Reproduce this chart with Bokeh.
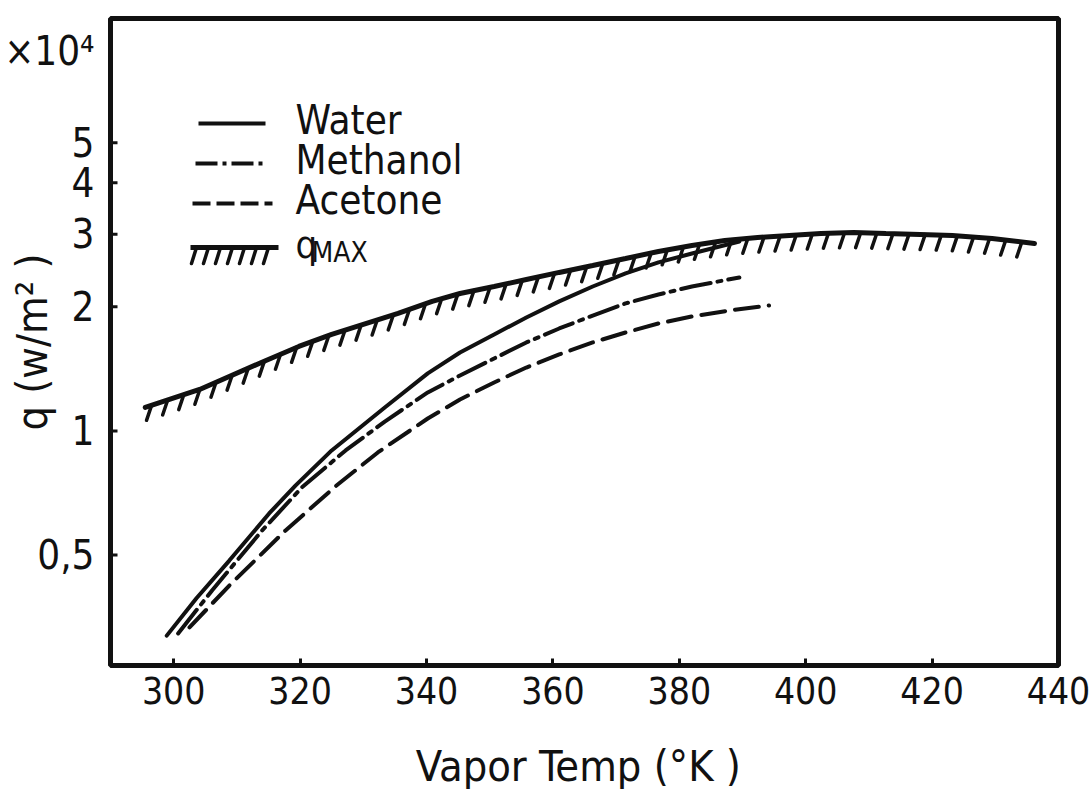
import numpy as np
from bokeh.plotting import figure
from bokeh.models import Range1d, LinearScale, FixedTicker, Label
from bokeh.embed import file_html
from bokeh.resources import INLINE

# Vapor temperature (K) against heat flux q (in units of 10^4 W/m^2)
water_T = [298.9, 303.6, 308.8, 315.1, 319.3, 325.0, 333.4, 340.2, 345.3, 350.7,
           355.8, 361.0, 366.3, 371.5, 376.7, 382.0, 389.5]
water_q = [0.319, 0.393, 0.485, 0.631, 0.738, 0.897, 1.14, 1.379, 1.550, 1.714,
           1.884, 2.061, 2.240, 2.409, 2.562, 2.693, 2.880]

methanol_T = [300.7, 306.1, 314.0, 320.3, 327.2, 333.4, 340.2, 345.3, 350.7,
              355.8, 361.0, 366.3, 371.5, 376.7, 382.0, 389.5]
methanol_q = [0.323, 0.411, 0.574, 0.730, 0.897, 1.054, 1.240, 1.363, 1.499,
              1.639, 1.772, 1.905, 2.038, 2.142, 2.240, 2.356]

acetone_T = [302.5, 308.8, 317.7, 325.6, 332.3, 340.2, 345.3, 350.7, 355.8,
             361.0, 366.3, 371.5, 376.7, 382.0, 388.0, 394.2]
acetone_q = [0.334, 0.422, 0.574, 0.734, 0.887, 1.072, 1.192, 1.311, 1.425,
             1.533, 1.639, 1.733, 1.822, 1.895, 1.960, 2.015]

qmax_T = [295.5, 304.1, 314.6, 319.8, 325.0, 335.5, 340.9, 345.3, 350.7, 355.8,
          361.0, 366.3, 371.5, 376.7, 382.0, 387.2, 392.4, 397.4, 402.4, 407.6,
          412.7, 418.1, 423.2, 429.5, 436.2]
qmax_q = [1.140, 1.261, 1.482, 1.603, 1.714, 1.927, 2.061, 2.154, 2.240, 2.329,
          2.423, 2.519, 2.619, 2.724, 2.817, 2.897, 2.945, 2.978, 3.011, 3.028,
          3.011, 2.995, 2.978, 2.929, 2.848]

x_ticks = [300, 320, 340, 360, 380, 400, 420, 440]
y_ticks = [0.5, 1.0, 2.0, 3.0, 4.0, 5.0]
y_tick_labels = ["0,5", "1", "2", "3", "4", "5"]
y_multiplier = "×10⁴"

legend_names = ["Water", "Methanol", "Acetone"]

FONT = "DejaVu Sans Condensed"
INK = "#111111"
FW, FH = 948, 647
X_LO, X_HI = 290, 440
Y_LO, Y_HI = 0.27, 10.0

p = figure(frame_width=FW, frame_height=FH,
           x_range=Range1d(X_LO, X_HI), y_range=Range1d(Y_LO, Y_HI),
           y_axis_type="log", output_backend="svg", toolbar_location=None,
           min_border_left=110, min_border_right=34,
           min_border_top=18, min_border_bottom=124)

p.background_fill_color = "white"
p.border_fill_color = "white"
p.outline_line_color = INK
p.outline_line_width = 5
p.xgrid.visible = False
p.ygrid.visible = False

# pixel-based overlay coordinates for the legend block
p.extra_x_ranges = {"px": Range1d(0, FW)}
p.extra_y_ranges = {"px": Range1d(0, FH)}
p.extra_y_scales = {"px": LinearScale()}

# the power-of-ten multiplier sits in the tick-label column near the top
log_lo, log_hi = np.log10(Y_LO), np.log10(Y_HI)
mult_pos = float(10 ** (log_lo + 0.95 * (log_hi - log_lo)))

# axes
p.xaxis.ticker = FixedTicker(ticks=x_ticks)
p.yaxis.ticker = FixedTicker(ticks=y_ticks + [mult_pos])
overrides = {t: s for t, s in zip(y_ticks, y_tick_labels)}
overrides[mult_pos] = y_multiplier
p.yaxis.major_label_overrides = overrides
for ax in (p.xaxis[0], p.yaxis[0]):
    ax.axis_line_color = None
    ax.major_tick_out = 0
    ax.major_tick_line_width = 3
    ax.major_tick_line_color = INK
    ax.minor_tick_line_color = None
    ax.major_label_text_font = FONT
    ax.major_label_text_color = INK
    ax.axis_label_text_font = FONT
    ax.axis_label_text_font_size = "43px"
    ax.axis_label_text_font_style = "normal"
    ax.axis_label_text_color = INK
p.xaxis.major_label_text_font_size = "37px"
p.yaxis.major_label_text_font_size = "40px"
p.xaxis.major_tick_in = 7
p.yaxis.major_tick_in = 0

p.xaxis.axis_label = "Vapor  Temp (°K )"
p.xaxis.major_label_standoff = 11
p.xaxis.axis_label_standoff = 34
p.yaxis.axis_label = "q (w/m² )"
p.yaxis.major_label_standoff = 16
p.yaxis.axis_label_standoff = -56

# inward tick marks on the q axis (value ticks only)
tick_len = 7 * (X_HI - X_LO) / FW
p.segment(x0=[X_LO] * len(y_ticks), y0=y_ticks,
          x1=[X_LO + tick_len] * len(y_ticks), y1=y_ticks,
          line_color=INK, line_width=3)

# curves
p.line(water_T, water_q, line_color=INK, line_width=4, line_cap="round")
p.line(methanol_T, methanol_q, line_color=INK, line_width=4, line_cap="round",
       line_dash="30 7 4 7")
p.line(acetone_T, acetone_q, line_color=INK, line_width=4, line_cap="round",
       line_dash="24 10")

# q_max boundary with hatching hanging below-left of the line
p.line(qmax_T, qmax_q, line_color=INK, line_width=5, line_cap="round")
step = 2.55
hT = np.arange(qmax_T[0] + 1.0, qmax_T[-1] - 0.5, step)
hq = 10 ** np.interp(hT, qmax_T, np.log10(qmax_q))
p.segment(x0=hT, y0=hq, x1=hT - 0.8, y1=hq * 0.92, line_color=INK,
          line_width=3.5, line_cap="round")

# legend block
leg_y = [542, 502, 462]
leg_x0 = [88, 85, 82]
leg_x1 = [155, 155, 162]
leg_dash = ["solid", "22 5 4 5", "18 6"]
for y, x0, x1, dash, name in zip(leg_y, leg_x0, leg_x1, leg_dash, legend_names):
    p.line([x0, x1], [y, y], x_range_name="px", y_range_name="px",
           line_color=INK, line_width=4, line_dash=dash)
    p.add_layout(Label(x=185, y=y + 4, x_units="screen", y_units="screen",
                       text=name, text_font=FONT, text_font_size="40px",
                       text_baseline="middle", text_color=INK))

hy = 418
p.line([80, 168], [hy, hy], x_range_name="px", y_range_name="px",
       line_color=INK, line_width=5)
hx = np.arange(86, 168, 12)
p.segment(x0=hx, y0=np.full(len(hx), hy), x1=hx - 5, y1=np.full(len(hx), hy - 16),
          x_range_name="px", y_range_name="px", line_color=INK, line_width=3.5,
          line_cap="round")
p.add_layout(Label(x=185, y=421, x_units="screen", y_units="screen", text="q",
                   text_font=FONT, text_font_size="38px", text_baseline="middle",
                   text_color=INK))
p.add_layout(Label(x=201, y=413, x_units="screen", y_units="screen", text="MAX",
                   text_font=FONT, text_font_size="28px", text_baseline="middle",
                   text_color=INK))

open("out.html", "w").write(file_html(p, INLINE))
